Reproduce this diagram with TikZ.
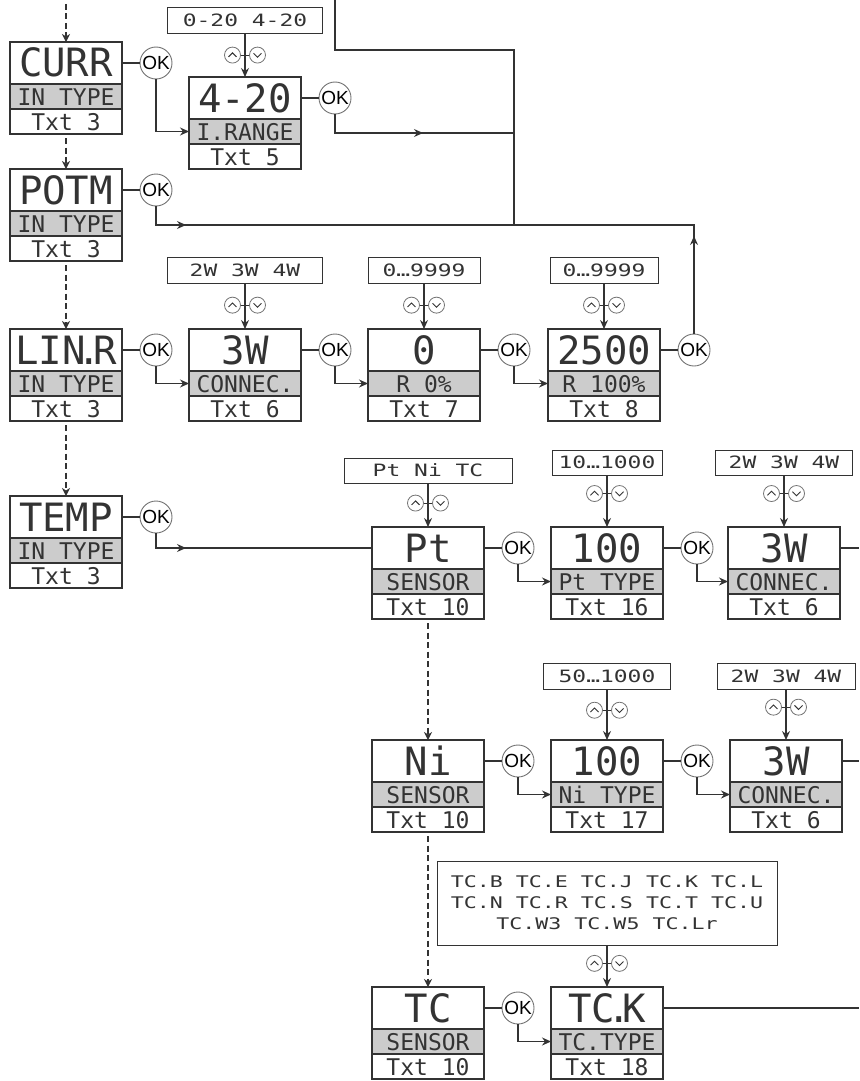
\documentclass[tikz,border=0pt]{standalone}
\usepackage{fontspec}
\newfontfamily\lcdfont{DejaVu Sans Mono}
\newfontfamily\lcdwide[FakeStretch=1.35]{DejaVu Sans Mono}
\newfontfamily\oksans{Liberation Sans}
\usetikzlibrary{arrows.meta,positioning}
\colorlet{myink}{black!80}
\colorlet{mygrey}{black!20}
\colorlet{myring}{black!55}
\def\boxw{112pt}
% the dot of the display font takes less room than a full cell
\newcommand\lcddot{\kern-8pt.\kern-8pt}
\newcommand\disp[6]{
  % display value, parameter name, help text
  \node[lcd top] (#1) at (#2,#3) {#4};
  \node[lcd mid, below=0pt of #1] (#1-m) {#5};
  \node[lcd bot, below=0pt of #1-m] (#1-b) {#6};
}
\newcommand\okafter[1]{
  \node[ok, right=18pt of #1] (ok-#1) {OK};
  \draw[wire] (#1) -- (ok-#1);
}
\newcommand\updown[1]{
  \node[btn up]   (#1-u) at ([xshift=-12.5pt]#1) {};
  \node[btn down] (#1-d) at ([xshift=12.5pt]#1) {};
  \draw[wire, line width=0.7pt] (#1-u) -- (#1-d);
}

\begin{document}
\begin{tikzpicture}[x=1pt, y=-1pt,
    wire/.style={draw=myink, line width=1.1pt},
    flow/.style={wire, -{Stealth[length=9pt,width=8pt,inset=3pt]}},
    dflow/.style={wire, line width=2pt, dash pattern=on 6pt off 3.5pt, shorten <=4pt,
                  -{Stealth[length=8pt,width=8pt,inset=2.5pt]}},
    lcd/.style={draw=myink, line width=1.3pt, minimum width=\boxw, inner sep=0pt,
                outer sep=0pt, text=myink},
    lcd top/.style={lcd, anchor=north west, minimum height=42pt, text height=28pt,
                    text depth=0pt, font={\lcdfont\fontsize{39pt}{39pt}\selectfont}},
    lcd mid/.style={lcd, fill=mygrey, minimum height=25pt, text height=17pt,
                    text depth=0pt, font={\lcdfont\fontsize{23pt}{23pt}\selectfont}},
    lcd bot/.style={lcd mid, fill=none},
    choice/.style={draw=myink, line width=1pt, inner sep=0pt, text=myink,
                   font={\lcdwide\fontsize{17pt}{17pt}\selectfont}},
    pick/.style={choice, minimum height=26pt, text height=12.5pt, text depth=0pt},
    ok/.style={circle, draw=myring, line width=0.9pt, fill=white, minimum size=32pt,
               inner sep=0pt, outer sep=0pt, text=black,
               font={\oksans\fontsize{19pt}{19pt}\selectfont}},
    btn/.style={circle, draw=myring, line width=0.8pt, fill=white, minimum size=16pt,
                inner sep=0pt},
    btn up/.style={btn, path picture={\draw[myink, line width=0.9pt]
      ([shift={(-4pt,-1.8pt)}]path picture bounding box.center) -- ++(4pt,4pt) -- ++(4pt,-4pt);}},
    btn down/.style={btn, path picture={\draw[myink, line width=0.9pt]
      ([shift={(-4pt,1.8pt)}]path picture bounding box.center) -- ++(4pt,-4pt) -- ++(4pt,4pt);}},
  ]
  \useasboundingbox (0,0) rectangle (859,1081);

  % ------------------------------------------------------------------ displays
  \disp{curr}{10}{42}{CURR}{IN TYPE}{Txt 3}
  \disp{irange}{189}{77}{4-20}{I.RANGE}{Txt 5}
  \disp{potm}{10}{169}{POTM}{IN TYPE}{Txt 3}
  \disp{linr}{10}{329}{LIN\lcddot R}{IN TYPE}{Txt 3}
  \disp{conn-a}{189}{329}{3W}{CONNEC.}{Txt 6}
  \disp{rzero}{368}{329}{0}{R 0\%}{Txt 7}
  \disp{rfull}{548}{329}{2500}{R 100\%}{Txt 8}
  \disp{temp}{10}{496}{TEMP}{IN TYPE}{Txt 3}
  \disp{pt}{372}{527}{Pt}{SENSOR}{Txt 10}
  \disp{pttype}{551}{527}{100}{Pt TYPE}{Txt 16}
  \disp{conn-b}{728}{527}{3W}{CONNEC.}{Txt 6}
  \disp{ni}{372}{740}{Ni}{SENSOR}{Txt 10}
  \disp{nitype}{551}{740}{100}{Ni TYPE}{Txt 17}
  \disp{conn-c}{730}{740}{3W}{CONNEC.}{Txt 6}
  \disp{tc}{372}{987}{TC}{SENSOR}{Txt 10}
  \disp{tctype}{551}{987}{TC\lcddot K}{TC.TYPE}{Txt 18}

  \foreach \d in {curr,irange,potm,linr,conn-a,rzero,rfull,temp,pt,pttype,ni,nitype,tc}{
    \okafter{\d}
  }

  % ------------------------------------------------------------------ choices
  \node[pick, minimum width=155pt] (c-irange) at (245,20.5) {0-20 4-20};
  \node[pick, minimum width=155pt] (c-conn-a) at (245,270.5) {2W 3W 4W};
  \node[pick, minimum width=112pt] (c-rzero)  at (424,270.5) {0…9999};
  \node[pick, minimum width=108pt] (c-rfull)  at (604,270.5) {0…9999};
  \node[pick, minimum width=168pt, minimum height=25pt] (c-pt) at (428,470.5) {Pt Ni TC};
  \node[pick, minimum width=110pt, minimum height=25pt] (c-pttype) at (607,462.5) {10…1000};
  \node[pick, minimum width=137pt, minimum height=25pt] (c-conn-b) at (784,462.5) {2W 3W 4W};
  \node[pick, minimum width=127pt] (c-nitype) at (607,676) {50…1000};
  \node[pick, minimum width=138pt] (c-conn-c) at (786,676) {2W 3W 4W};
  \node[choice, minimum width=340pt, minimum height=84pt, align=center,
        font={\lcdwide\fontsize{16pt}{21pt}\selectfont}] (c-tctype) at (607,903)
    {TC.B TC.E TC.J TC.K TC.L\\TC.N TC.R TC.S TC.T TC.U\\TC.W3 TC.W5 TC.Lr};

  \foreach \d/\p in {irange/0.49, conn-a/0.47, rzero/0.47, rfull/0.47, pt/0.45,
                     pttype/0.35, conn-b/0.35, nitype/0.41, conn-c/0.35, tctype/0.43} {
    \draw[flow] (c-\d) -- (\d) coordinate[pos=\p] (b-\d);
    \updown{b-\d}
  }

  % ------------------------------------------------------------------ OK steps
  \draw[flow] (ok-curr) |- (irange-m);
  \draw[flow] (ok-linr) |- (conn-a-m);
  \draw[flow] (ok-conn-a) |- (rzero-m);
  \draw[flow] (ok-rzero) |- (rfull-m);
  \draw[flow] (ok-pt) |- (pttype-m);
  \draw[flow] (ok-pttype) |- (conn-b-m);
  \draw[flow] (ok-ni) |- (nitype-m);
  \draw[flow] (ok-nitype) |- (conn-c-m);
  \draw[flow] (ok-tc) |- (tctype-m);

  \draw[wire] (ok-temp) |- (pt);
  \draw[flow] (ok-temp.south |- pt.west) -- ++(30,0);

  % ------------------------------------------------------------------ scroll down
  \coordinate (entry) at (66,0);
  \draw[dflow] (entry) -- (curr);
  \draw[dflow] (curr-b) -- (potm);
  \draw[dflow] (potm-b) -- (linr);
  \draw[dflow] (linr-b) -- (temp);
  \draw[dflow] (pt-b) -- (ni);
  \draw[dflow] (ni-b) -- (tc);

  % ------------------------------------------------------------------ back to start
  \coordinate (back) at (335,0);
  \coordinate (jtop) at (514,50);
  \coordinate (jmid) at (514,133);
  \coordinate (jbot) at (514,225);
  \draw[wire] (back) |- (jtop) -- (jbot);
  \draw[wire] (ok-irange) |- (jmid);
  \draw[flow] (ok-irange.south |- jmid) -- ++(88,0);
  \draw[wire] (ok-potm) |- (jbot);
  \draw[flow] (ok-potm.south |- jbot) -- ++(30,0);
  \draw[wire] (ok-rfull) |- (jbot);
  \draw[flow] (ok-rfull.north) -- ++(0,-98);

  % ------------------------------------------------------------------ on to the next page
  \coordinate (out-b) at (859,548);
  \coordinate (out-c) at (859,761);
  \coordinate (out-tc) at (859,1008);
  \draw[wire] (conn-b) -- (out-b);
  \draw[wire] (conn-c) -- (out-c);
  \draw[wire] (tctype) -- (out-tc);

\end{tikzpicture}
\end{document}
